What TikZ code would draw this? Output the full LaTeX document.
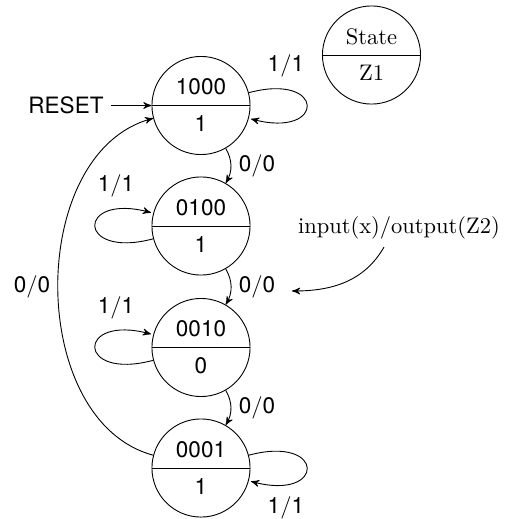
\documentclass[tikz,border=0pt]{standalone}
\usepackage{fontspec}
\newfontfamily\hv{TeX Gyre Heros}
\usetikzlibrary{shapes.multipart,arrows}
\newcommand\lbl[2]{{\hv #1}/{\hv #2}}
\begin{document}
\begin{tikzpicture}[x=0.4444pt,y=-0.4444pt,>=stealth',
  st/.style={circle split,draw,minimum size=43.6pt,inner ysep=4.4pt,inner xsep=2pt,font=\hv},
  legend/.style={st,font=\rmfamily}]
\useasboundingbox (0,0) rectangle (506,519);
\node[st] (s1) at (201,105.5) {1000 \nodepart{lower} 1};
\node[st] (s2) at (201,226) {0100 \nodepart{lower} 1};
\node[st] (s3) at (201,347.5) {0010 \nodepart{lower} 0};
\node[st] (s4) at (201,468) {0001 \nodepart{lower} 1};
\node[legend] (leg) at (371.5,55) {State \nodepart{lower} Z1};
\node[font=\hv] (reset) at (66,105.5) {RESET};
\node (note) at (399,228) {input(x)/output(Z2)};
\coordinate (tip) at (292,291);
\draw[->] (reset) -- (s1);
\path[->]
  (s1) edge[loop right] node[pos=0.2,above=2pt] {\lbl11} ()
  (s2) edge[loop left] node[pos=0.8,above=2pt] {\lbl11} ()
  (s3) edge[loop left] node[pos=0.8,above=2pt] {\lbl11} ()
  (s4) edge[loop right] node[pos=0.8,below=2pt] {\lbl11} ()
  (s1) edge[bend left] node[auto] {\lbl00} (s2)
  (s2) edge[bend left] node[auto] (l23) {\lbl00} (s3)
  (s3) edge[bend left] node[auto] {\lbl00} (s4)
  (s4) edge[bend left=75] node[auto] {\lbl00} (s1);
\draw[->] ([xshift=-6.7pt]note.south) to[out=-120,in=0] (tip);
\end{tikzpicture}
\end{document}
